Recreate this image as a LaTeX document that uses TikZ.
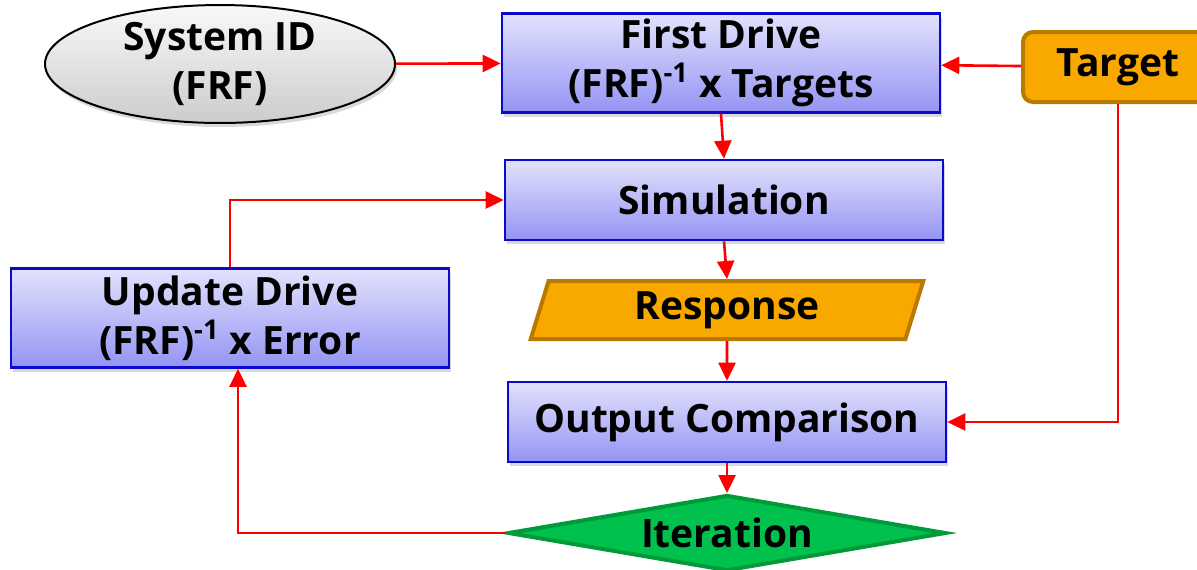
\documentclass[tikz,border=0pt]{standalone}
\usepackage{fontspec}
\setmainfont{Open Sans}
\usetikzlibrary{positioning, calc, shapes.geometric, arrows.meta, shadows}
\definecolor{boxtop}{HTML}{E2E2FC}
\definecolor{boxbot}{HTML}{9494F4}
\definecolor{boxline}{HTML}{0A0ACC}
\definecolor{orfill}{HTML}{F9A800}
\definecolor{orline}{HTML}{BA7A00}
\definecolor{grfill}{HTML}{00C04E}
\definecolor{grline}{HTML}{009A3A}
\begin{document}
\begin{tikzpicture}[x=0.5pt, y=-0.5pt,
    every node/.style={font=\fontsize{19.5}{24.5}\selectfont\bfseries, align=center, inner sep=0pt},
    blk/.style={rectangle, draw=boxline, line width=1.3pt, top color=boxtop, bottom color=boxbot, minimum width=219pt,
      drop shadow={shadow xshift=1pt, shadow yshift=-2pt, opacity=0.3}},
    orng/.style={fill=orfill, draw=orline, line width=2pt},
    arr/.style={draw=red, line width=1.3pt, -{Triangle[length=9pt, width=8.5pt]}}]
  \clip (0,0) rectangle (1197,569);
  \useasboundingbox (0,0) rectangle (1197,569);
  \node[ellipse, draw=black, line width=1pt, top color=gray!5, bottom color=gray!40, minimum width=175pt, minimum height=52pt,
    drop shadow={shadow xshift=1pt, shadow yshift=-2pt, opacity=0.3}] (sysid) at (220,64) {System ID\\(FRF)};
  \node[blk, minimum height=49.5pt] (first) at (721,63) {First Drive\\(FRF)\textsuperscript{-1} x Targets};
  \node[orng, rounded corners=5pt, minimum width=95pt, minimum height=35pt] (target) at (1118,67) {Target};
  \node[blk, minimum height=40pt] (sim) at (724,200) {Simulation};
  \node[blk, minimum height=49.5pt] (update) at (230,318) {Update Drive\\(FRF)\textsuperscript{-1} x Error};
  \node[orng, trapezium, trapezium left angle=76, trapezium right angle=104, trapezium stretches=true,
    minimum width=196.5pt, minimum height=29pt] (resp) at (727,310) {Response};
  \node[diamond, fill=grfill, draw=grline, line width=2pt, shape aspect=5.6, minimum width=219pt, minimum height=38pt] (iter) at (727,533) {Iteration};
  \node[blk, minimum height=40pt] (outcmp) at (727,422) {Output Comparison};
  \draw[arr] (sysid) -- (first);
  \draw[arr] (target) -- (first);
  \foreach \a/\b in {first/sim, sim/resp, resp/outcmp, outcmp/iter} {
    \draw[arr] (\a.south) -- (\b.north);
  }
  \draw[arr] (target.south) |- (outcmp.east);
  \draw[arr] (iter.west) -| ([xshift=4pt]update.south);
  \draw[arr] (update.north) |- (sim.west);
\end{tikzpicture}
\end{document}
